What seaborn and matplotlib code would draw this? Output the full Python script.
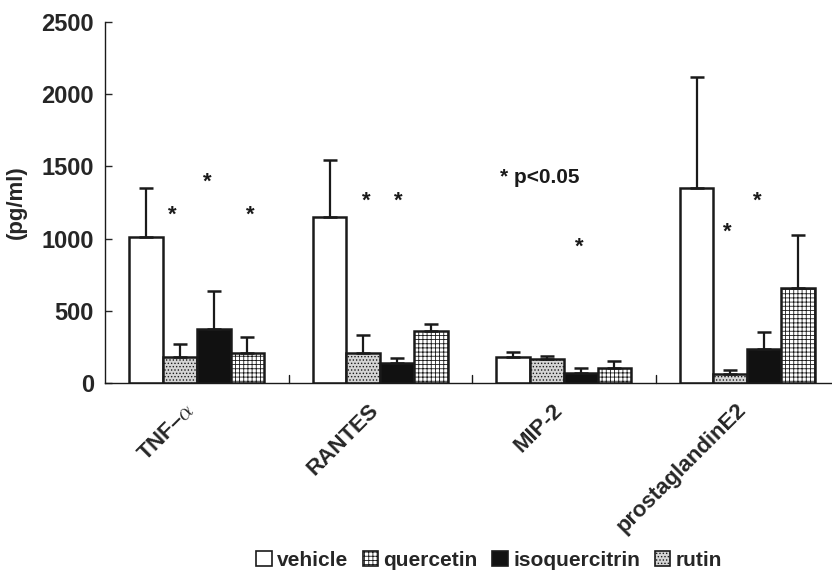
import numpy as np
import pandas as pd
import matplotlib
matplotlib.use("Agg")
import matplotlib.pyplot as plt
import matplotlib.transforms as mtransforms
from matplotlib.patches import Patch
import seaborn as sns

categories = ["TNF–$\\alpha$", "RANTES", "MIP-2", "prostaglandinE2"]
treatments = ["vehicle", "quercetin", "isoquercitrin", "rutin"]
vehicle = [1009, 1147, 178, 1348]
quercetin = [178, 210, 166, 62]
isoquercitrin = [374, 141, 67, 235]
rutin = [210, 360, 102, 656]
vehicle_err = [343, 395, 39, 771]
quercetin_err = [94, 122, 19, 28]
isoquercitrin_err = [261, 30, 39, 120]
rutin_err = [109, 49, 48, 369]
star_x = [-0.131, 0.060, 0.294, 0.926, 1.099, 2.083, 2.892, 3.056]
star_y = [1159, 1390, 1159, 1262, 1262, 940, 1043, 1262]
yticks = [0, 500, 1000, 1500, 2000, 2500]

sns.set_style("ticks")
plt.rcParams["font.family"] = ["Liberation Sans", "DejaVu Sans"]
plt.rcParams["font.weight"] = "bold"
plt.rcParams["hatch.linewidth"] = 0.6
plt.rcParams["mathtext.fontset"] = "cm"

vals = [vehicle, quercetin, isoquercitrin, rutin]
errs = [vehicle_err, quercetin_err, isoquercitrin_err, rutin_err]
rows = []
for t, v in zip(treatments, vals):
    for c, val in zip(categories, v):
        rows.append({"cat": c, "treat": t, "val": val})
df = pd.DataFrame(rows)

fig = plt.figure(figsize=(8.32, 5.72), dpi=100)
ax = fig.add_axes([105 / 832, (572 - 383) / 572, (839 - 105) / 832, (383 - 22) / 572])

sns.barplot(data=df, x="cat", y="val", hue="treat", order=categories,
            hue_order=treatments, width=0.736, errorbar=None, ax=ax,
            legend=False, saturation=1)

styles = [
    dict(facecolor="white", hatch=None),
    dict(facecolor="#d4d4d4", hatch="....."),
    dict(facecolor="#111111", hatch=None),
    dict(facecolor="white", hatch="++++"),
]
for cont, st, e in zip(ax.containers, styles, errs):
    xs, ys = [], []
    for p in cont.patches:
        p.set_facecolor(st["facecolor"])
        p.set_edgecolor("#1a1a1a")
        p.set_linewidth(1.8)
        if st["hatch"]:
            p.set_hatch(st["hatch"])
        xs.append(p.get_x() + p.get_width() / 2)
        ys.append(p.get_height())
    ax.errorbar(xs, ys, yerr=[np.zeros(len(e)), e], fmt="none",
                ecolor="#1a1a1a", elinewidth=1.6, capsize=5, capthick=1.8,
                zorder=1)

for x, y in zip(star_x, star_y):
    ax.text(x, y, "*", ha="center", va="center", fontsize=16,
            fontweight="bold", color="#1a1a1a")
ax.text(1.651, 1425, "* p<0.05", ha="left", va="center", fontsize=15,
        fontweight="bold", color="#1a1a1a")

ax.set_xlim(-0.5, 3.5)
ax.set_ylim(0, 2500)
ax.set_yticks(yticks)
ax.set_yticklabels([str(t) for t in yticks], fontsize=17, fontweight="bold")
ax.set_xticks([0, 1, 2, 3])
ax.set_xticklabels(categories, rotation=45, ha="right", rotation_mode="anchor",
                   fontsize=16, fontweight="bold")
ax.tick_params(axis="x", length=0, pad=12)
ax.tick_params(axis="y", direction="in", length=5, width=1, pad=8)
offset = mtransforms.ScaledTranslation(-12 / 100, 0, fig.dpi_scale_trans)
for lbl in ax.get_xticklabels():
    lbl.set_transform(lbl.get_transform() + offset)
for xb in [0.5, 1.5, 2.5]:
    ax.plot([xb, xb], [0, 55], color="#1a1a1a", lw=1, clip_on=False)
ax.set_xlabel("")
ax.set_ylabel("(pg/ml)", fontsize=16, fontweight="bold", labelpad=10)
for s in ["top", "right"]:
    ax.spines[s].set_visible(False)
for s in ["left", "bottom"]:
    ax.spines[s].set_linewidth(1)
    ax.spines[s].set_color("#1a1a1a")

handles = [
    Patch(facecolor="white", edgecolor="#1a1a1a", linewidth=1.2, label="vehicle"),
    Patch(facecolor="white", edgecolor="#1a1a1a", linewidth=1.2, hatch="++++", label="quercetin"),
    Patch(facecolor="#111111", edgecolor="#1a1a1a", linewidth=1.2, label="isoquercitrin"),
    Patch(facecolor="#d4d4d4", edgecolor="#1a1a1a", linewidth=1.2, hatch=".....", label="rutin"),
]
fig.legend(handles=handles, loc="center", bbox_to_anchor=(489 / 832, 12 / 572),
           ncol=4, frameon=False, handlelength=0.75, handleheight=0.75,
           handletextpad=0.25, columnspacing=0.7,
           prop={"size": 15, "weight": "bold"})

fig.savefig("out.png", dpi=100)
